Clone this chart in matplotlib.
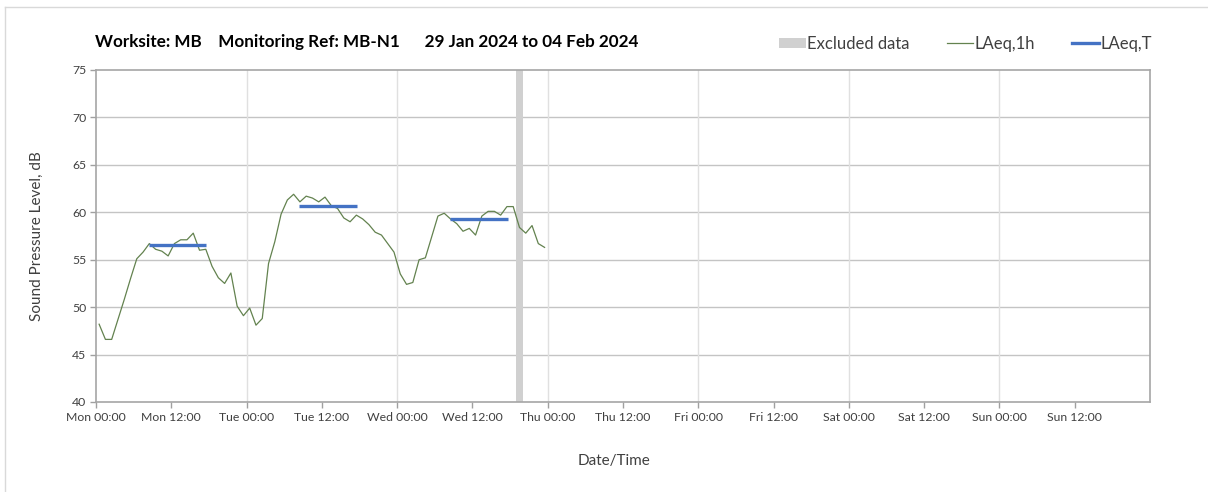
import numpy as np
import matplotlib
matplotlib.use('Agg')
from matplotlib import pyplot as plt
from matplotlib.lines import Line2D
from matplotlib.patches import Patch

plt.rcParams['font.family'] = ['Lato', 'DejaVu Sans']

# hourly LAeq,1h values from Mon 00:00 to Wed 23:00 (plotted at mid-hour)
hour_index = np.arange(72)
laeq_1h = [48.2, 46.6, 46.6, 48.7, 50.8, 53.0, 55.1, 55.8, 56.7, 56.1, 55.9, 55.4,
           56.7, 57.1, 57.1, 57.8, 56.0, 56.1, 54.3, 53.1, 52.5, 53.6, 50.1, 49.1,
           49.9, 48.1, 48.8, 54.6, 56.9, 59.8, 61.3, 61.9, 61.1, 61.7, 61.5, 61.1,
           61.6, 60.7, 60.4, 59.4, 59.0, 59.7, 59.3, 58.7, 57.9, 57.6, 56.7, 55.8,
           53.5, 52.4, 52.6, 55.0, 55.2, 57.4, 59.6, 59.9, 59.3, 58.8, 58.0, 58.3,
           57.6, 59.6, 60.1, 60.1, 59.7, 60.6, 60.6, 58.4, 57.8, 58.6, 56.7, 56.3]

# LAeq,T daytime levels (Mon, Tue, Wed)
laeq_t_day = [0, 1, 2]
laeq_t = [56.6, 60.7, 59.3]
laeq_t_from, laeq_t_to = 8.4, 17.6   # hours of the day

excluded_from, excluded_to = 67, 68   # hours since Mon 00:00

tick_hours = np.arange(0, 168, 12)
tick_labels = ['Mon 00:00', 'Mon 12:00', 'Tue 00:00', 'Tue 12:00', 'Wed 00:00',
               'Wed 12:00', 'Thu 00:00', 'Thu 12:00', 'Fri 00:00', 'Fri 12:00',
               'Sat 00:00', 'Sat 12:00', 'Sun 00:00', 'Sun 12:00']

fig = plt.figure(figsize=(12.08, 4.92), dpi=100)
ax = fig.add_axes([96 / 1208, 1 - 402 / 492, (1150 - 96) / 1208, (402 - 70) / 492])

# gridlines: horizontal every 5 dB, vertical each day
for y in range(45, 75, 5):
    ax.axhline(y, color='#c4c4c4', lw=1.0, zorder=0)
for d in range(1, 7):
    ax.axvline(d * 24, color='#e0e0e0', lw=1.0, zorder=0)

ax.axvspan(excluded_from, excluded_to, color='#d0d0d0', lw=0, zorder=1)
ax.plot(hour_index + 0.5, laeq_1h, color='#63824f', lw=0.9, zorder=2)
for d, v in zip(laeq_t_day, laeq_t):
    ax.plot([d * 24 + laeq_t_from, d * 24 + laeq_t_to], [v, v], color='#4472c4',
            lw=2.4, solid_capstyle='butt', zorder=3)

ax.set_xlim(0, 168)
ax.set_ylim(40, 75)
ax.set_yticks(range(40, 80, 5))
ax.set_xticks(tick_hours)
ax.set_xticklabels(tick_labels)
ax.tick_params(axis='both', length=4, width=1, color='#a0a0a0', labelsize=8.8,
               labelcolor='#404040', pad=3)
for s in ax.spines.values():
    s.set_color('#a6a6a6')
    s.set_linewidth(1.2)

ax.set_ylabel('Sound Pressure Level, dB', fontsize=11, color='#404040', labelpad=20)
fig.text(614 / 1208, 1 - 461 / 492, 'Date/Time', fontsize=11, color='#404040',
         ha='center', va='center')

fig.text(95 / 1208, 1 - 42 / 492,
         'Worksite: MB    Monitoring Ref: MB-N1      29 Jan 2024 to 04 Feb 2024',
         fontsize=12.3, fontweight='bold', ha='left', va='center')

handles = [Patch(facecolor='#d0d0d0', edgecolor='none'),
           Line2D([], [], color='#63824f', lw=0.9),
           Line2D([], [], color='#4472c4', lw=2.4)]
fig.legend(handles, ['Excluded data', 'LAeq,1h', 'LAeq,T'], ncol=3, frameon=False,
           loc='center left', bbox_to_anchor=(764 / 1208, 1 - 44 / 492),
           fontsize=12, handlelength=1.6, handletextpad=0.1, columnspacing=2.2,
           labelcolor='#404040', handleheight=0.6)

# outer chart-area border (top and left visible)
fig.add_artist(Line2D([5 / 1208, 5 / 1208], [0, 1 - 7 / 492], color='#d9d9d9', lw=1))
fig.add_artist(Line2D([5 / 1208, 1], [1 - 7 / 492, 1 - 7 / 492], color='#d9d9d9', lw=1))

fig.savefig('out.png', dpi=100)
